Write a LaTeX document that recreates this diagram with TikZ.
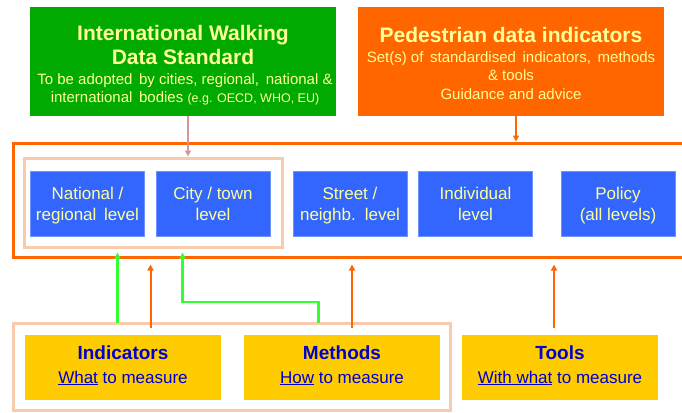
\documentclass[tikz,border=0pt]{standalone}
\usepackage{fontspec}
\setmainfont{Liberation Sans}
\usetikzlibrary{arrows.meta,calc}
\definecolor{wgreen}{HTML}{00AA00}
\definecolor{worange}{HTML}{FF6600}
\definecolor{wblue}{HTML}{3366FF}
\definecolor{wyellow}{HTML}{FFCC00}
\definecolor{wsalmon}{HTML}{F8CBAD}
\definecolor{wpink}{HTML}{D99694}
\definecolor{wlime}{HTML}{33FF33}
\definecolor{paleyellow}{HTML}{FFFF99}
\definecolor{darkblue}{HTML}{0000CC}
\newcommand{\lowstrut}{\rule{0pt}{\dimexpr 0.7\baselineskip+4pt\relax}}
\begin{document}
\begin{tikzpicture}[x=1pt,y=-1pt,
  topbox/.style={fill=#1, draw=none, minimum width=306pt, minimum height=109pt, inner sep=0pt},
  toptitle/.style={text=paleyellow, align=center, inner sep=0pt, font=\fontsize{21}{24}\bfseries\selectfont},
  topsub/.style={text=paleyellow, align=center, inner sep=0pt, font=\fontsize{15}{18.5}\selectfont},
  lvl/.style={fill=wblue, draw=wblue!70!white, line width=0.5pt, minimum width=114pt, minimum height=65pt, inner sep=0pt, text=paleyellow, align=center, font=\fontsize{17}{21}\selectfont},
  ybox/.style={fill=wyellow, draw=none, minimum width=196pt, minimum height=65pt, inner sep=0pt},
  ytitle/.style={text=darkblue, inner sep=0pt, font=\fontsize{19}{22}\bfseries\selectfont},
  ysub/.style={text=darkblue, inner sep=0pt, font=\fontsize{17}{20}\selectfont},
  frameor/.style={draw=worange, line width=3pt, inner sep=0pt},
  framesal/.style={draw=wsalmon, line width=3pt, inner sep=0pt},
  arr/.style={line width=2pt, -{Triangle[length=6pt,width=6pt]}},
]
\useasboundingbox (0,0) rectangle (682,412);
% top boxes
\node[topbox=wgreen] (green) at (183,61.5) {};
\node[toptitle] (gt) at (183,48) {\strut International Walking\\\strut Data Standard};
\node[topsub] (gs) at (185,90) {\strut To be adopted\, by cities, regional,\, national \&\\\strut international\, bodies {\fontsize{12.5}{15}\selectfont (e.g. OECD, WHO, EU)}};
\node[topbox=worange] (orange) at (511,61.5) {};
\node[toptitle] (ot) at (511,38) {\strut Pedestrian data indicators};
\node[topsub] (os) at (511,77) {\strut Set(s) of\, standardised\, indicators,\, methods\\\strut\& tools\\\strut Guidance and advice};
% level frame
\node[frameor, minimum width=677pt, minimum height=114pt] (levels) at (351.5,200) {};
\node[framesal, minimum width=258pt, minimum height=89pt] (inner) at (153,202.5) {};
\node[lvl] (nat) at (87.5,203.5) {\lowstrut National /\\\strut regional\, level};
\node[lvl] (city) at (213,203.5) {\lowstrut City / town\\\strut level};
\node[lvl] (street) at (350,203.5) {\lowstrut Street /\\\strut neighb.\, level};
\node[lvl] (indiv) at (475.5,203.5) {\lowstrut Individual\\\strut level};
\node[lvl] (policy) at (618,203.5) {\lowstrut Policy\\\strut (all levels)};
% bottom
\node[framesal, minimum width=437pt, minimum height=87pt] (bottom) at (231.5,366.5) {};
\node[ybox] (ind) at (123,367.5) {};
\node[ybox] (meth) at (342,367.5) {};
\node[ybox] (tools) at (560,367.5) {};
\node[ytitle] (indt) at (123,355) {\strut Indicators};
\node[ysub] (inds) at (123,379) {\strut\underline{What} to measure};
\node[ytitle] (metht) at (342,355) {\strut Methods};
\node[ysub] (meths) at (342,379) {\strut\underline{How} to measure};
\node[ytitle] (toolst) at (560,355) {\strut Tools};
\node[ysub] (toolss) at (560,379) {\strut\underline{With what} to measure};
% arrows from top
\coordinate (pa) at ($(green.south)+(5,0)$);
\draw[arr, wpink] (pa) -- (pa |- inner.north);
\coordinate (oa) at ($(orange.south)+(5,0)$);
\draw[arr, worange] (oa) -- (oa |- levels.north);
% arrows from bottom
\coordinate (ylev) at ($(levels.south)+(0,6)$);
\coordinate (glev) at ($(inner.south)+(0,4)$);
\coordinate (g1) at (117.5,323);
\coordinate (g2) at (318.5,323);
\coordinate (g2x) at (182.5,302);
\draw[arr, wlime, line width=2.5pt] (g1) -- (g1 |- glev);
\draw[arr, wlime, line width=2.5pt] (g2) -- (g2 |- g2x) -- (g2x) -- (g2x |- glev);
\coordinate (o1) at (150.5,328);
\coordinate (o2) at (352,328);
\coordinate (o3) at (554,328);
\draw[arr, worange] (o1) -- (o1 |- ylev);
\draw[arr, worange] (o2) -- (o2 |- ylev);
\draw[arr, worange] (o3) -- (o3 |- ylev);
\end{tikzpicture}
\end{document}
